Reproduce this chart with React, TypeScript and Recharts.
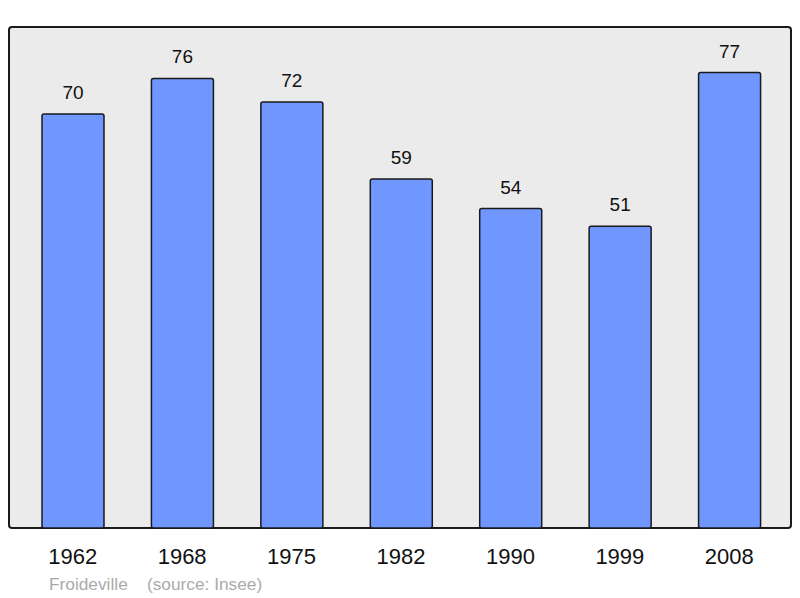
import { BarChart, Bar, XAxis, YAxis, LabelList } from "recharts";

const years = ["1962", "1968", "1975", "1982", "1990", "1999", "2008"];
const population = [70, 76, 72, 59, 54, 51, 77];
const commune = "Froideville";
const source = "(source: Insee)";

const W = 800;
const H = 598;
const AXIS_H = 30;
// plot frame: x 9..791, y 27..528
const M = { top: 27, right: 9, bottom: 70 - AXIS_H, left: 9 };
const FONT = "'Liberation Sans', Arial, sans-serif";

export default function App() {
  const data = years.map((y, i) => ({ year: y, value: population[i] }));
  const yMax = Math.max(...population) * 1.1;

  return (
    <div style={{ position: "fixed", left: 0, top: 0, width: W, height: H, background: "#fff", fontFamily: FONT }}>
      <div
        style={{
          position: "absolute",
          left: M.left - 1,
          top: M.top - 1,
          width: W - M.left - M.right + 2,
          height: H - M.top - M.bottom - AXIS_H + 2,
          boxSizing: "border-box",
          border: "2px solid #1a1a1a",
          borderRadius: 4,
          background: "#ebebeb",
        }}
      />
      <div style={{ position: "absolute", left: 0, top: 0 }}>
        <BarChart width={W} height={H} data={data} margin={M}>
          <XAxis
            dataKey="year"
            height={AXIS_H}
            axisLine={false}
            tickLine={false}
            tickMargin={14}
            padding={{ left: 9, right: 7 }}
            tick={{ fontSize: 22, fill: "#111", fontFamily: FONT }}
          />
          <YAxis hide domain={[0, yMax]} />
          <Bar dataKey="value" fill="#7096ff" stroke="#1a1a1a" strokeWidth={1.5} barSize={62} radius={2} isAnimationActive={false}>
            <LabelList
              dataKey="value"
              position="top"
              offset={15}
              style={{ fontSize: 19, fill: "#111", fontFamily: FONT }}
            />
          </Bar>
        </BarChart>
      </div>
      <div style={{ position: "absolute", left: 49, top: 574, fontSize: 17.3, color: "#aaa", whiteSpace: "pre" }}>
        {commune + "    " + source}
      </div>
    </div>
  );
}
